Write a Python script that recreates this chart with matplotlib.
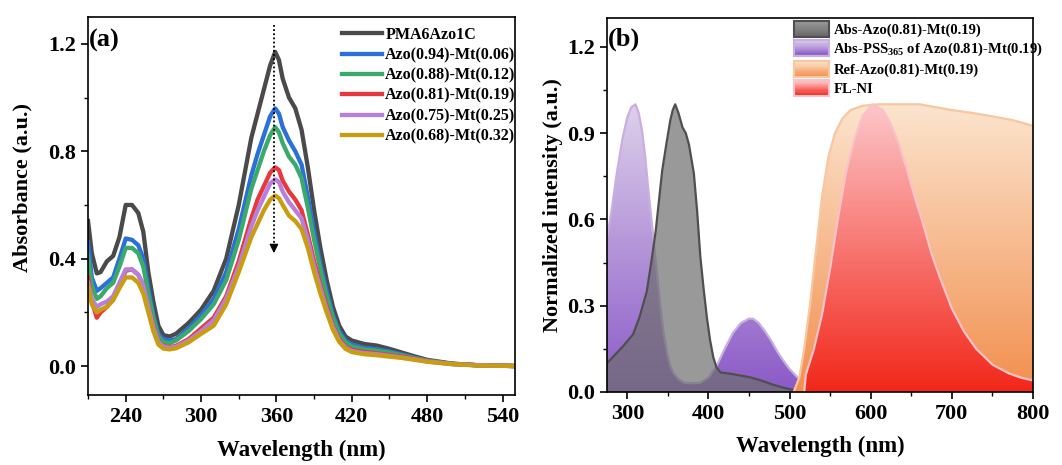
import numpy as np
import matplotlib
matplotlib.use('Agg')
import matplotlib.pyplot as plt
from matplotlib.colors import LinearSegmentedColormap
from matplotlib.patches import Rectangle, Patch
from matplotlib.legend_handler import HandlerBase
from matplotlib.ticker import MultipleLocator

plt.rcParams['font.family'] = 'Liberation Serif'
plt.rcParams['font.weight'] = 'bold'
plt.rcParams['mathtext.fontset'] = 'custom'
plt.rcParams['mathtext.rm'] = 'Liberation Serif:bold'
plt.rcParams['mathtext.it'] = 'Liberation Serif:italic:bold'
plt.rcParams['mathtext.bf'] = 'Liberation Serif:bold'

# ---------------- panel (a): UV-vis absorbance ----------------
wl_a = [210, 213, 217, 220, 225, 230, 235, 240, 245, 250, 254, 258, 262, 266, 270,
        275, 280, 290, 300, 310, 320, 330, 340, 345, 350, 355, 359, 362, 365, 370,
        375, 380, 385, 390, 395, 400, 405, 410, 415, 420, 430, 440, 450, 460, 470,
        480, 500, 520, 550]
pma = [0.54, 0.42, 0.345, 0.35, 0.39, 0.41, 0.48, 0.60, 0.60, 0.57, 0.50, 0.35, 0.24, 0.15, 0.115,
       0.11, 0.12, 0.16, 0.21, 0.28, 0.40, 0.60, 0.85, 0.94, 1.03, 1.12, 1.17, 1.14, 1.07, 1.00,
       0.96, 0.88, 0.74, 0.58, 0.44, 0.32, 0.22, 0.15, 0.11, 0.095, 0.082, 0.076, 0.064, 0.05, 0.036,
       0.023, 0.009, 0.003, 0.0]
azo094 = [0.46, 0.33, 0.28, 0.29, 0.31, 0.33, 0.40, 0.475, 0.47, 0.45, 0.40, 0.29, 0.19, 0.12, 0.10,
          0.095, 0.10, 0.14, 0.19, 0.25, 0.35, 0.51, 0.71, 0.79, 0.86, 0.93, 0.96, 0.94, 0.89, 0.84,
          0.80, 0.75, 0.63, 0.50, 0.38, 0.28, 0.19, 0.13, 0.095, 0.08, 0.068, 0.063, 0.054, 0.043, 0.031,
          0.02, 0.008, 0.003, 0.0]
azo088 = [0.41, 0.30, 0.25, 0.26, 0.29, 0.31, 0.37, 0.44, 0.44, 0.42, 0.37, 0.27, 0.18, 0.11, 0.09,
          0.085, 0.095, 0.13, 0.175, 0.23, 0.32, 0.47, 0.66, 0.73, 0.80, 0.86, 0.89, 0.87, 0.83, 0.78,
          0.75, 0.70, 0.59, 0.47, 0.36, 0.26, 0.18, 0.12, 0.088, 0.073, 0.062, 0.057, 0.05, 0.04, 0.03,
          0.02, 0.008, 0.003, 0.0]
azo081 = [0.33, 0.24, 0.18, 0.20, 0.22, 0.25, 0.30, 0.355, 0.36, 0.34, 0.30, 0.22, 0.15, 0.09, 0.075,
          0.07, 0.075, 0.10, 0.14, 0.18, 0.26, 0.39, 0.55, 0.62, 0.67, 0.72, 0.74, 0.73, 0.69, 0.65,
          0.62, 0.58, 0.49, 0.39, 0.30, 0.22, 0.15, 0.10, 0.072, 0.06, 0.052, 0.047, 0.041, 0.035, 0.027,
          0.018, 0.008, 0.003, 0.0]
azo075 = [0.31, 0.25, 0.22, 0.23, 0.24, 0.26, 0.31, 0.36, 0.36, 0.34, 0.30, 0.22, 0.145, 0.09, 0.072,
          0.068, 0.072, 0.095, 0.13, 0.17, 0.25, 0.37, 0.52, 0.58, 0.63, 0.68, 0.695, 0.685, 0.65, 0.61,
          0.58, 0.55, 0.47, 0.37, 0.29, 0.21, 0.145, 0.095, 0.068, 0.056, 0.048, 0.044, 0.038, 0.032, 0.025,
          0.017, 0.007, 0.003, 0.0]
azo068 = [0.30, 0.23, 0.20, 0.21, 0.22, 0.245, 0.29, 0.33, 0.33, 0.31, 0.27, 0.20, 0.13, 0.08, 0.065,
          0.062, 0.066, 0.088, 0.12, 0.15, 0.23, 0.35, 0.48, 0.53, 0.58, 0.62, 0.635, 0.625, 0.60, 0.56,
          0.54, 0.51, 0.44, 0.35, 0.27, 0.20, 0.135, 0.09, 0.064, 0.052, 0.044, 0.04, 0.035, 0.03, 0.023,
          0.016, 0.007, 0.002, 0.0]
series_a = [pma, azo094, azo088, azo081, azo075, azo068]
labels_a = ['PMA6Azo1C', 'Azo(0.94)-Mt(0.06)', 'Azo(0.88)-Mt(0.12)',
            'Azo(0.81)-Mt(0.19)', 'Azo(0.75)-Mt(0.25)', 'Azo(0.68)-Mt(0.32)']
colors_a = ['#4a4a4a', '#2a6fdb', '#3aa96b', '#e8383d', '#b77fdc', '#c99d12']

# ---------------- panel (b): normalized spectra ----------------
wl_azo = [275, 285, 295, 307, 315, 324, 330, 335, 343, 348, 353, 356, 359, 363, 368, 372, 376,
          382, 386, 390, 394, 398, 402, 406, 410, 415, 430, 450, 465, 480, 495, 505, 520, 540]
abs_azo = [0.10, 0.13, 0.16, 0.20, 0.26, 0.35, 0.46, 0.56, 0.77, 0.86, 0.945, 0.98, 1.0, 0.97,
           0.92, 0.90, 0.86, 0.76, 0.63, 0.47, 0.36, 0.26, 0.18, 0.12, 0.085, 0.068, 0.062, 0.052,
           0.04, 0.025, 0.013, 0.007, 0.002, 0.0]
wl_pss = [275, 280, 287, 294, 300, 305, 310, 314, 318, 322, 326, 332, 337, 341, 345, 349, 353,
          357, 363, 370, 380, 390, 400, 410, 420, 430, 440, 450, 455, 462, 470, 478, 485, 492,
          500, 510, 520, 535, 550, 570, 600]
abs_pss = [0.54, 0.62, 0.76, 0.88, 0.955, 0.99, 1.0, 0.97, 0.91, 0.82, 0.70, 0.54, 0.40, 0.29,
           0.20, 0.135, 0.09, 0.065, 0.045, 0.032, 0.03, 0.032, 0.05, 0.09, 0.15, 0.205, 0.24,
           0.255, 0.255, 0.24, 0.21, 0.175, 0.14, 0.11, 0.08, 0.05, 0.03, 0.015, 0.007, 0.003, 0.0]
wl_ref = [505, 512, 518, 525, 532, 540, 548, 556, 565, 575, 590, 610, 640, 660, 680, 700, 725,
          750, 775, 800]
ref = [0.0, 0.05, 0.15, 0.30, 0.48, 0.68, 0.82, 0.90, 0.95, 0.98, 0.995, 1.0, 1.0, 1.0, 0.99,
       0.98, 0.97, 0.958, 0.945, 0.925]
wl_fl = [518, 520, 530, 540, 550, 560, 570, 580, 590, 602, 615, 625, 635, 645, 655, 665, 675,
         685, 700, 715, 730, 750, 770, 785, 800]
fl = [0.0, 0.06, 0.15, 0.27, 0.43, 0.61, 0.77, 0.88, 0.96, 1.0, 0.98, 0.93, 0.86, 0.77, 0.67,
      0.58, 0.48, 0.40, 0.29, 0.21, 0.15, 0.095, 0.065, 0.05, 0.04]
labels_b = ['Abs-Azo(0.81)-Mt(0.19)', r'Abs-PSS$_{365}$ of Azo(0.81)-Mt(0.19)',
            'Ref-Azo(0.81)-Mt(0.19)', 'FL-NI']

# gradient colours (top, bottom, edge)
grad_pss = ('#ddd0eb', '#8b5ac7', '#c8afe2')
grad_ref = ('#fce4ce', '#f28f4e', '#f8c79f')
grad_fl = ('#fdc6c9', '#f2271a', '#f8c2ca')
gray_fill = ('#9a9a9a', '#6a6a6a', '#4f4f4f')


def grad_fill(ax, x, y, cols, z):
    x = np.asarray(x, float)
    y = np.asarray(y, float)
    poly = ax.fill_between(x, 0, y, facecolor='none', edgecolor='none', zorder=z)
    cmap = LinearSegmentedColormap.from_list('g', [cols[1], cols[0]])
    img = np.linspace(0, 1, 256).reshape(-1, 1)
    im = ax.imshow(img, cmap=cmap, aspect='auto', origin='lower',
                   extent=[x.min(), x.max(), 0, 1.0], zorder=z, interpolation='bilinear')
    im.set_clip_path(poly.get_paths()[0], transform=ax.transData)
    ax.plot(x, y, color=cols[2], lw=1.6, zorder=z + 0.1)


class GradHandler(HandlerBase):
    def __init__(self, cols):
        super().__init__()
        self.cols = cols

    def create_artists(self, legend, orig_handle, xdescent, ydescent, width, height, fontsize, trans):
        cmap = LinearSegmentedColormap.from_list('g', [self.cols[1], self.cols[0]])
        arts = []
        n = 14
        for i in range(n):
            r = Rectangle((-xdescent, -ydescent + i * height / n), width, height / n + 0.3,
                          facecolor=cmap(i / (n - 1)), edgecolor='none', transform=trans)
            arts.append(r)
        arts.append(Rectangle((-xdescent, -ydescent), width, height, facecolor='none',
                              edgecolor=self.cols[2], lw=1.5, transform=trans))
        return arts


fig = plt.figure(figsize=(10.62, 4.65), dpi=100)
ax1 = fig.add_axes([0.0829, 0.1505, 0.4021, 0.8129])
ax2 = fig.add_axes([0.5716, 0.1570, 0.4011, 0.8043])

for s, lab, c in zip(series_a, labels_a, colors_a):
    ax1.plot(wl_a, s, color=c, lw=3.1, label=lab, solid_joinstyle='round')

# dotted arrow marking decrease
ax1.plot([358, 358], [1.27, 0.45], ls=(0, (1, 1.3)), color='k', lw=1.3, zorder=5)
ax1.annotate('', xy=(358, 0.41), xytext=(358, 0.46),
             arrowprops=dict(arrowstyle='-|>', color='k', lw=1, mutation_scale=13), zorder=5)

ax1.set_xlim(210, 550)
ax1.set_ylim(-0.108, 1.30)
ax1.set_xticks([240, 300, 360, 420, 480, 540])
ax1.xaxis.set_minor_locator(MultipleLocator(30))
ax1.set_yticks([0.0, 0.4, 0.8, 1.2])
ax1.yaxis.set_minor_locator(MultipleLocator(0.2))
ax1.set_xlabel('Wavelength (nm)', fontsize=16.5, fontweight='bold', labelpad=9)
ax1.set_ylabel('Absorbance (a.u.)', fontsize=16, fontweight='bold')
ax1.yaxis.set_label_coords(-0.131, 0.55)
ax1.text(0.003, 0.968, '(a)', transform=ax1.transAxes, fontsize=19, fontweight='bold',
         va='top', ha='left')
ax1.legend(loc='upper left', bbox_to_anchor=(0.595, 0.974), frameon=False, fontsize=11.5,
           handlelength=2.5, handletextpad=0.2, labelspacing=0.27, borderpad=0,
           borderaxespad=0)

# panel (b)
grad_fill(ax2, wl_pss, abs_pss, grad_pss, 1)
ax2.fill_between(wl_azo, 0, abs_azo, color='#6e6e6e', alpha=0.7, lw=0, zorder=2)
ax2.plot(wl_azo, abs_azo, color=gray_fill[2], lw=1.6, zorder=2.1)
grad_fill(ax2, wl_ref, ref, grad_ref, 3)
grad_fill(ax2, wl_fl, fl, grad_fl, 4)

ax2.set_xlim(275, 800)
ax2.set_ylim(0, 1.30)
ax2.set_xticks([300, 400, 500, 600, 700, 800])
ax2.xaxis.set_minor_locator(MultipleLocator(50))
ax2.set_yticks([0.0, 0.3, 0.6, 0.9, 1.2])
ax2.set_yticklabels(['0.0', '0.3', '0.6', '0.9', '1.2'])
ax2.yaxis.set_minor_locator(MultipleLocator(0.15))
ax2.set_xlabel('Wavelength (nm)', fontsize=16.5, fontweight='bold', labelpad=9)
ax2.set_ylabel('Normalized intensity (a.u.)', fontsize=16, fontweight='bold')
ax2.yaxis.set_label_coords(-0.103, 0.5)
ax2.text(0.003, 0.975, '(b)', transform=ax2.transAxes, fontsize=19, fontweight='bold',
         va='top', ha='left')

handles_b = [Patch(), Patch(), Patch(), Patch()]
hmap = {handles_b[0]: GradHandler(gray_fill),
        handles_b[1]: GradHandler(grad_pss),
        handles_b[2]: GradHandler(grad_ref),
        handles_b[3]: GradHandler(grad_fl)}
ax2.legend(handles_b, labels_b, handler_map=hmap, loc='upper left',
           bbox_to_anchor=(0.439, 0.993), frameon=False, fontsize=10.5,
           handlelength=2.4, handleheight=1.3, handletextpad=0.3, labelspacing=0.22,
           borderpad=0, borderaxespad=0)

for ax in (ax1, ax2):
    for sp in ax.spines.values():
        sp.set_linewidth(1.2)
        sp.set_zorder(10)
    ax.tick_params(which='major', direction='out', length=5, width=1.2, labelsize=16)
    ax.tick_params(which='minor', direction='out', length=3, width=1.0)

fig.savefig('out.png', dpi=100)
